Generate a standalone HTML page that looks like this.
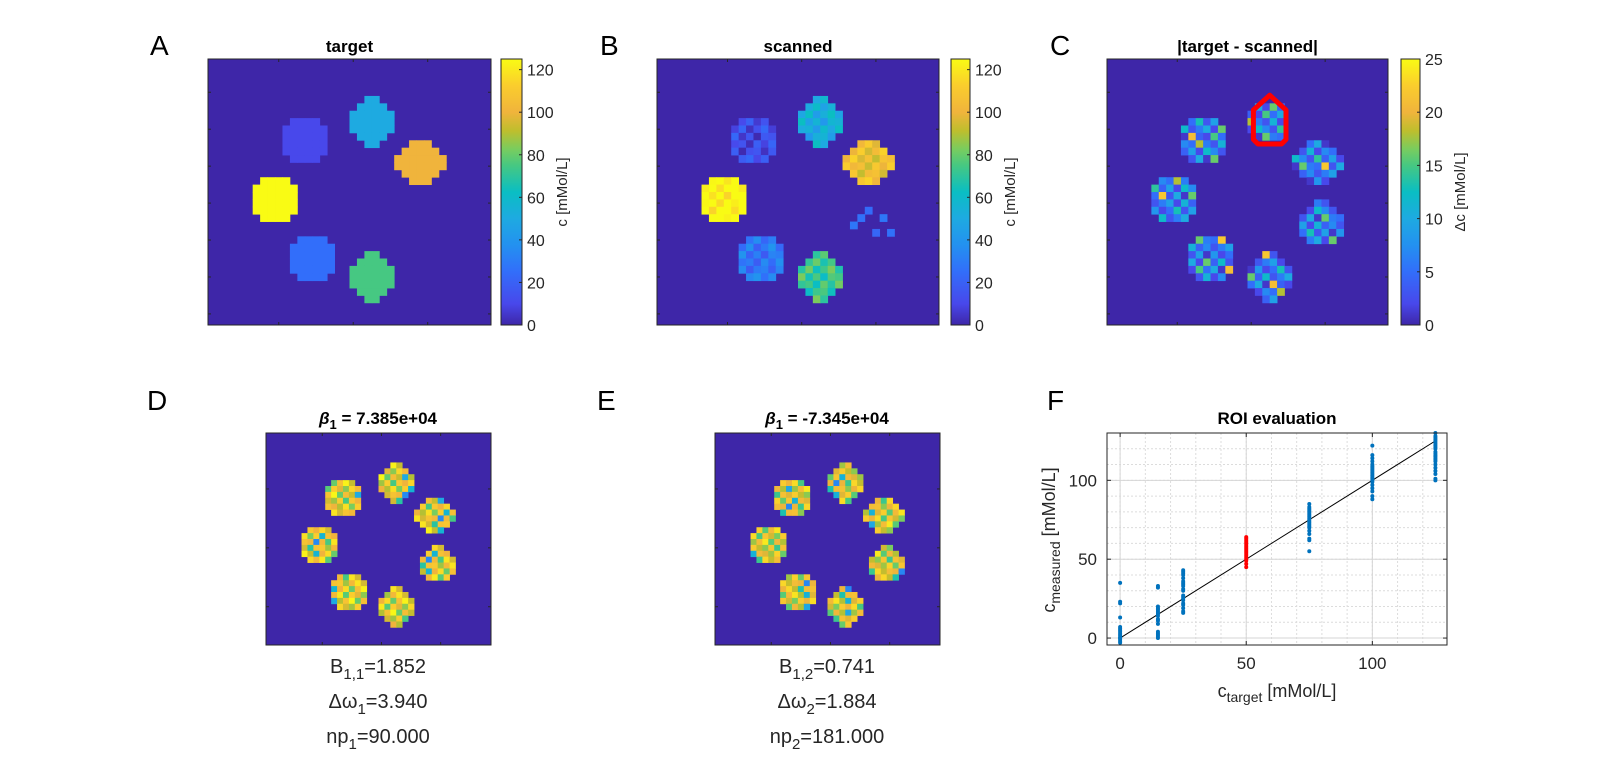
<!DOCTYPE html>
<html><head><meta charset="utf-8">
<style>
html,body{margin:0;padding:0;background:#fff;}
svg{display:block;font-family:"Liberation Sans",Arial,sans-serif;}
</style></head>
<body>
<svg id="fig" width="1600" height="783" viewBox="0 0 1600 783" xmlns="http://www.w3.org/2000/svg">
<defs>
<linearGradient id="parula" x1="0" y1="1" x2="0" y2="0">
<stop offset="0" stop-color="rgb(62,38,168)"/>
<stop offset="0.08" stop-color="rgb(72,72,235)"/>
<stop offset="0.2" stop-color="rgb(50,110,250)"/>
<stop offset="0.3" stop-color="rgb(35,145,240)"/>
<stop offset="0.4" stop-color="rgb(30,170,225)"/>
<stop offset="0.5" stop-color="rgb(10,190,195)"/>
<stop offset="0.6" stop-color="rgb(70,200,130)"/>
<stop offset="0.66" stop-color="rgb(120,205,95)"/>
<stop offset="0.73" stop-color="rgb(190,190,45)"/>
<stop offset="0.8" stop-color="rgb(240,180,60)"/>
<stop offset="0.9" stop-color="rgb(250,205,45)"/>
<stop offset="1" stop-color="rgb(249,251,20)"/>
</linearGradient>
</defs>
<g id="layer"></g>
</svg>
<script>
// ---- image data ----
const blobCols = [13.0, 22.0, 28.5, 9.0, 29.0, 14.0, 22.0];
const blobRows = [11.0, 8.5, 14.0, 19.0, 22.4, 27.0, 29.5];
const targetVals = [10, 50, 100, 125, 0, 25, 75];
const scannedOffsets = [2, 2, 3, 0, 4, 3, -3];
const noiseA = [
 [ 0.3,-0.6, 0.9,-0.2, 0.5,-0.9, 0.1],
 [-0.8, 0.4,-0.1, 0.7,-0.5, 0.2, 0.6],
 [ 0.5,-0.3, 0.8,-0.7, 0.1, 0.9,-0.4],
 [-0.2, 0.9,-0.6, 0.3,-0.9, 0.4, 0.2],
 [ 0.7,-0.1, 0.2,-0.8, 0.6,-0.3, 0.8],
 [-0.5, 0.6,-0.9, 0.1, 0.3,-0.7, 0.4],
 [ 0.2,-0.4, 0.5, 0.9,-0.2, 0.6,-0.8]];
const diffBase = [
 [ 3, 6, 9, 2, 11, 4, 7],
 [ 8, 2, 5, 13, 3, 9, 1],
 [ 4, 12, 3, 6, 10, 2, 16],
 [10, 1, 21, 4, 2, 15, 5],
 [ 2, 7, 5, 18, 6, 3, 11],
 [14, 4, 9, 2, 12, 7, 3],
 [ 5, 22, 3, 10, 1, 16, 6]];
const betaBase = [
 [0.88,0.70,0.82,0.95,0.76,0.55,0.86],
 [0.80,0.93,0.64,0.85,0.98,0.74,0.45],
 [0.96,0.62,0.90,0.78,0.68,0.92,0.82],
 [0.72,0.86,0.99,0.64,0.84,0.74,0.40],
 [0.92,0.76,0.70,0.90,0.60,0.88,0.80],
 [0.45,0.85,0.80,0.72,0.94,0.66,0.90],
 [0.82,0.60,0.95,0.76,0.86,0.82,0.28]];
// ---- scatter data (panel F) ----
const groupX = [0, 15, 25, 50, 75, 100, 125];
const groupY = [
 [-3,-2,-1,0,0,1,2,3,4,5,6,7,13,22,23,35],
 [0,1,2,3,4,9,11,12,14,15,16,17,18,19,20,32,33],
 [16,17,19,21,22,24,25,26,27,30,31,33,34,35,36,38,40,41,42,43],
 [45,47,49,50,51,52,53,54,55,56,57,58,59,60,61,62,63,64],
 [55,62,63,66,68,70,71,72,73,74,75,76,77,78,79,80,81,82,83,85],
 [88,90,93,95,97,99,100,101,102,103,104,105,106,107,108,109,110,112,114,116,122],
 [100,101,104,106,108,110,112,113,114,115,116,117,118,120,121,122,123,124,125,126,127,128,130]];
const xTicks = [0, 50, 100];
const yTicks = [0, 50, 100];

const NS = "http://www.w3.org/2000/svg";
const layer = document.getElementById('layer');
function mk(tag, attrs, parent){const e=document.createElementNS(NS,tag);for(const k in attrs)e.setAttribute(k,attrs[k]);(parent||layer).appendChild(e);return e;}
const stops=[[0,62,38,168],[0.08,72,72,235],[0.2,50,110,250],[0.3,35,145,240],[0.4,30,170,225],[0.5,10,190,195],[0.6,70,200,130],[0.66,120,205,95],[0.73,190,190,45],[0.8,240,180,60],[0.9,250,205,45],[1,249,251,20]];
function parula(t){t=Math.max(0,Math.min(1,t));for(let i=1;i<stops.length;i++){if(t<=stops[i][0]){const a=stops[i-1],b=stops[i];const f=(t-a[0])/(b[0]-a[0]);return `rgb(${Math.round(a[1]+f*(b[1]-a[1]))},${Math.round(a[2]+f*(b[2]-a[2]))},${Math.round(a[3]+f*(b[3]-a[3]))})`;}}return 'rgb(249,251,20)';}

function txt(x,y,s,opts,parent){const t=mk('text',Object.assign({x:x,y:y,'font-size':16,fill:'#262626'},opts||{}),parent);t.textContent=s;return t;}

function heatmap(name,x0,y0,w,h,cols,rows,cellFn,r2){
  const g=mk('g',{});
  
  
  const cw=w/cols,ch=h/rows;
  mk('rect',{x:x0,y:y0,width:w,height:h,fill:parula(0)},g);
  for(let b=0;b<blobCols.length;b++){
    for(let r=0;r<rows;r++)for(let c=0;c<cols;c++){
      const dx=(c+0.5)-blobCols[b],dy=(r+0.5)-blobRows[b];
      if(dx*dx+dy*dy>(r2||9.6))continue;
      const ni=Math.min(6,Math.max(0,Math.round(dy+3))),nj=Math.min(6,Math.max(0,Math.round(dx+3)));
      const v=cellFn(b,ni,nj);
      if(v===null)continue;
      const cell=mk('rect',{x:(x0+c*cw).toFixed(2),y:(y0+r*ch).toFixed(2),width:(cw+0.4).toFixed(2),height:(ch+0.4).toFixed(2),fill:parula(v)},g);
      
      
    }
  }
  mk('rect',{x:x0,y:y0,width:w,height:h,fill:'none',stroke:'#262626','stroke-width':1},g);
  for(let k=10;k<cols;k+=10){const tx=x0+(k-0.5)*cw;mk('line',{x1:tx,y1:y0,x2:tx,y2:y0+3,stroke:'#262626'},g);mk('line',{x1:tx,y1:y0+h,x2:tx,y2:y0+h-3,stroke:'#262626'},g);}
  const step=h>240?5:10;
  for(let k=step;k<rows;k+=step){const ty=y0+(k-0.5)*ch;mk('line',{x1:x0,y1:ty,x2:x0+3,y2:ty,stroke:'#262626'},g);mk('line',{x1:x0+w,y1:ty,x2:x0+w-3,y2:ty,stroke:'#262626'},g);}
  return {cw,ch};
}
function colorbar(name,x0,y0,w,h,max,ticks,label){
  const g=mk('g',{});
  
  
  mk('rect',{x:x0,y:y0,width:w,height:h,fill:'url(#parula)',stroke:'#262626','stroke-width':1},g);
  ticks.forEach(t=>{const ty=y0+h-(t/max)*h;mk('line',{x1:x0+w-3,y1:ty,x2:x0+w,y2:ty,stroke:'#262626'},g);txt(x0+w+5,ty+6,String(t),{},g);});
  const lx=x0+w+45,ly=y0+h/2;
  txt(lx,ly,label,{'text-anchor':'middle',transform:`rotate(-90 ${lx} ${ly})`,'font-size':15},g);
}
function letter(s,x,y){const t=txt(x,y,s,{'font-size':28,fill:'#000'});}

// ---- Panel A ----
letter('A',150,55);
txt(349.5,52,'target',{'text-anchor':'middle','font-weight':'bold','font-size':17,fill:'#000'});
heatmap('heatmap-target',208,59,283,266,38,36,(b,i,j)=>targetVals[b]===0?null:targetVals[b]/125);
colorbar('colorbar-a',501,59,21,266,125,[0,20,40,60,80,100,120],'c [mMol/L]');

// ---- Panel B ----
letter('B',600,55);
txt(798,52,'scanned',{'text-anchor':'middle','font-weight':'bold','font-size':17,fill:'#000'});
heatmap('heatmap-scanned',657,59,282,266,38,36,(b,i,j)=>{
  if(targetVals[b]===0){return (noiseA[i][j]>0.55)?(10+noiseA[i][j]*20)/125:null;}
  return (targetVals[b]+scannedOffsets[b]+noiseA[i][j]*12)/125;});
colorbar('colorbar-b',951,59,19,266,125,[0,20,40,60,80,100,120],'c [mMol/L]');

// ---- Panel C ----
letter('C',1050,55);
txt(1247.5,52,'|target - scanned|',{'text-anchor':'middle','font-weight':'bold','font-size':17,fill:'#000'});
const cc=heatmap('heatmap-difference',1107,59,281,266,38,36,(b,i,j)=>{
  if(b===1 && (i<1||i>5||j<1||j>5)) return null;
  const v=diffBase[(i+b)%7][(j+2*b)%7];
  return v/25;});
colorbar('colorbar-c',1401,59,19,266,25,[0,5,10,15,20,25],'\u0394c [mMol/L]');
(function(){
  const x0=1107,y0=59,cx=x0+blobCols[1]*cc.cw,cy=y0+blobRows[1]*cc.ch;
  const pts=[[0,-3.6],[2.2,-1.6],[2.2,2.4],[1.6,3.0],[-1.6,3.0],[-2.2,2.4],[-2.2,-1.6]].map(p=>`${(cx+p[0]*cc.cw).toFixed(1)},${(cy+p[1]*cc.ch).toFixed(1)}`).join(' ');
  const roi=mk('polygon',{points:pts,fill:'none',stroke:'#ff0000','stroke-width':5,'stroke-linejoin':'round'});
  
  
})();

// ---- Panel D ----
letter('D',147,410);
function betaTitle(cx,val,name){
  const t=mk('text',{x:cx,y:424,'text-anchor':'middle','font-size':17,'font-weight':'bold',fill:'#000'});
  
  
  t.innerHTML=`<tspan font-style="italic">\u03b2</tspan><tspan dy="5" font-size="13">1</tspan><tspan dy="-5"> = ${val}</tspan>`;
}
betaTitle(378,'7.385e+04','title-beta-1');
heatmap('heatmap-beta-1',266,433,225,212,38,36,(b,i,j)=>betaBase[(i+b)%7][(j+b)%7]);
function infoLines(cx,lines,name){
  const g=mk('g',{});
  
  
  lines.forEach((l,k)=>{const t=mk('text',{x:cx,y:673+k*35,'text-anchor':'middle','font-size':20,fill:'#262626'},g);t.innerHTML=l;});
}
infoLines(378,['B<tspan dy="6" font-size="15">1,1</tspan><tspan dy="-6">=1.852</tspan>','\u0394\u03c9<tspan dy="6" font-size="15">1</tspan><tspan dy="-6">=3.940</tspan>','np<tspan dy="6" font-size="15">1</tspan><tspan dy="-6">=90.000</tspan>'],'parameters-1');

// ---- Panel E ----
letter('E',597,410);
betaTitle(827,'-7.345e+04','title-beta-2');
heatmap('heatmap-beta-2',715,433,225,212,38,36,(b,i,j)=>betaBase[(i+2*b+1)%7][(j+b+3)%7]*0.97);
infoLines(827,['B<tspan dy="6" font-size="15">1,2</tspan><tspan dy="-6">=0.741</tspan>','\u0394\u03c9<tspan dy="6" font-size="15">2</tspan><tspan dy="-6">=1.884</tspan>','np<tspan dy="6" font-size="15">2</tspan><tspan dy="-6">=181.000</tspan>'],'parameters-2');

// ---- Panel F ----
letter('F',1047,410);
txt(1277,424,'ROI evaluation',{'text-anchor':'middle','font-weight':'bold','font-size':17,fill:'#000'});
(function(){
  const L=1107,R=1447,T=433,B=645;
  const xmin=-5.2,xmax=129.6,ymin=-4.4,ymax=130;
  const sx=v=>L+(v-xmin)/(xmax-xmin)*(R-L);
  const sy=v=>B-(v-ymin)/(ymax-ymin)*(B-T);
  const g=mk('g',{});
  
  
  mk('rect',{x:L,y:T,width:R-L,height:B-T,fill:'#fff'},g);
  for(let v=0;v<=125;v+=10){mk('line',{x1:sx(v),y1:T,x2:sx(v),y2:B,stroke:'#dcdcdc','stroke-dasharray':'2,2'},g);}
  for(let v=0;v<=125;v+=10){mk('line',{x1:L,y1:sy(v),x2:R,y2:sy(v),stroke:'#dcdcdc','stroke-dasharray':'2,2'},g);}
  xTicks.forEach(v=>{mk('line',{x1:sx(v),y1:T,x2:sx(v),y2:B,stroke:'#d6d6d6'},g);mk('line',{x1:sx(v),y1:B,x2:sx(v),y2:B-4,stroke:'#262626'},g);mk('line',{x1:sx(v),y1:T,x2:sx(v),y2:T+4,stroke:'#262626'},g);
    const t=txt(sx(v),669,String(v),{'text-anchor':'middle','font-size':17},g);});
  yTicks.forEach(v=>{mk('line',{x1:L,y1:sy(v),x2:R,y2:sy(v),stroke:'#d6d6d6'},g);mk('line',{x1:L,y1:sy(v),x2:L+4,y2:sy(v),stroke:'#262626'},g);mk('line',{x1:R,y1:sy(v),x2:R-4,y2:sy(v),stroke:'#262626'},g);
    const t=txt(L-10,sy(v)+6,String(v),{'text-anchor':'end','font-size':17},g);});
  const fit=mk('line',{x1:sx(0),y1:sy(0),x2:sx(125),y2:sy(125),stroke:'#000','stroke-width':1},g);
  
  
  groupX.forEach((gx,gi)=>{groupY[gi].forEach(v=>{
    const d=mk('circle',{cx:sx(gx),cy:sy(v),r:2,fill:gx===50?'#ff0000':'#0072bd'},g);
    
    
  });});
  mk('rect',{x:L,y:T,width:R-L,height:B-T,fill:'none',stroke:'#262626'},g);
  const xl=mk('text',{x:1277,y:697,'text-anchor':'middle','font-size':18,fill:'#262626'},g);
  xl.innerHTML='c<tspan dy="5" font-size="14">target</tspan><tspan dy="-5"> [mMol/L]</tspan>';
  
  
  const yl=mk('text',{x:1055,y:540,'text-anchor':'middle','font-size':18,fill:'#262626',transform:'rotate(-90 1055 540)'},g);
  yl.innerHTML='c<tspan dy="5" font-size="14">measured</tspan><tspan dy="-5"> [mMol/L]</tspan>';
  
  
})();
</script>
</body></html>
